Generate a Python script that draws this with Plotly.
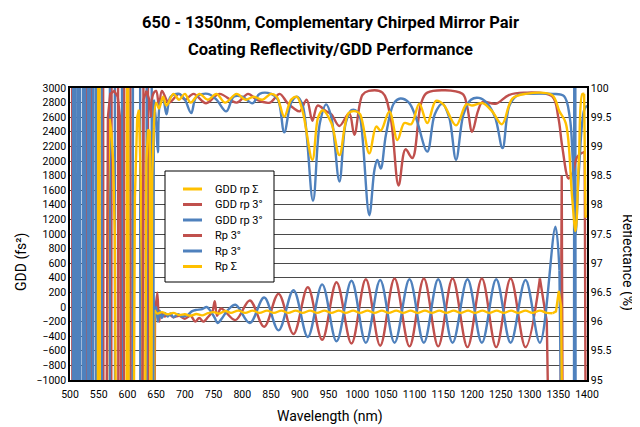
import plotly.graph_objects as go

# ---------------- colours ----------------
YEL = "#FFC000"
RED = "#C0504D"
BLU = "#4F81BD"

# ---------------- GDD (left axis, fs^2) ----------------
# GDD rp Σ (yellow)
gdd_sum_wl = [647, 652, 660, 670, 680, 690, 700, 710, 720, 730, 740, 750, 760, 770, 780,
              793, 805, 818, 830, 843, 855, 868, 880, 893, 905, 918, 930, 943, 955, 968,
              980, 993, 1005, 1018, 1030, 1043, 1055, 1068, 1080, 1093, 1105, 1118, 1130,
              1143, 1155, 1168, 1180, 1193, 1205, 1218, 1230, 1243, 1255, 1268, 1280, 1293,
              1305, 1318, 1330, 1340]
gdd_sum_val = [-40, -90, -70, -100, -80, -110, -100, -120, -95, -115, -85, -70, -90, -55, -80,
               -50, -80, -50, -80, -50, -80, -50, -80, -50, -80, -50, -80, -50, -80, -50,
               -80, -50, -80, -50, -80, -50, -80, -50, -80, -50, -80, -50, -80,
               -50, -80, -50, -80, -50, -80, -50, -80, -50, -80, -50, -80, -50,
               -80, -50, -80, -85]
# resonant region (steep spikes)
gdd_sum_edge_wl = [548, 549.5, 551, 552.5, 562, 566, 569, 572, 575, 578, 582,
                   598, 599.5, 601, 602.5, 609, 613, 617, 620, 623, 626, 628,
                   629, 633, 636, 639, 641, 645, 647]
gdd_sum_edge_val = [-5000, 5000, 5000, -5000, -5000, 1500, 2580, 2400, 2020, 1000, -5000,
                    -5000, 5000, 5000, -5000, -5000, 1500, 2600, 2700, 1800, 0, -5000,
                    -5000, 2000, 2430, 2400, -5000, -5000, -40]
gdd_sum_tail_wl = [1340, 1346, 1351, 1355, 1360]
gdd_sum_tail_val = [-85, -60, 220, 0, -5000]

# GDD rp 3° (red)
gdd_red_wl = [648, 652, 655, 658, 665, 672, 680, 690, 700, 710, 718, 725, 732, 740, 748,
              752, 756, 763, 788, 813, 838, 863, 889, 914, 939, 964, 990, 1015, 1040, 1065,
              1091, 1116, 1141, 1166, 1192, 1217, 1242, 1267, 1293, 1318]
gdd_red_val = [-120, 200, -200, -80, -130, -100, -140, -120, -160, -120, -200, -150, -200,
               -140, -60, 80, -120, -20, -180, 90, -270, 180, -370, 270, -450, 340, -500,
               380, -530, 390, -540, 390, -540, 390, -550, 390, -550, 390, -550, 390]
gdd_red_edge_wl = [503.5, 504.5, 515.5, 516.5, 527.5, 528.5, 537.5, 538.5, 557.5, 558.5,
                   571.5, 572.5, 583.5, 584.5, 593.5, 594.5, 605, 606, 627, 628, 635.5,
                   636.5, 645, 648]
gdd_red_edge_val = [5000, -5000, -5000, 5000, 5000, -5000, -5000, 5000, 5000, -5000,
                    -5000, 5000, 5000, -5000, -5000, 5000, 5000, -5000, -5000, 5000, 5000,
                    -5000, -5000, -120]
gdd_red_tail_wl = [1318, 1330, 1340, 1352, 1356, 1359]
gdd_red_tail_val = [390, -200, -5000, -5000, 1800, -5000]

# GDD rp 3° (blue)
gdd_blu_wl = [647, 650, 653, 656, 660, 665, 670, 675, 680, 688, 695, 705, 712, 720, 730,
              738, 745, 752, 757, 765, 775, 788, 813, 838, 863, 889, 914, 939, 964, 990,
              1015, 1040, 1065, 1091, 1116, 1141, 1166, 1192, 1217, 1242, 1267, 1293, 1318,
              1345, 1352]
gdd_blu_val = [-150, 0, -200, -50, -150, -80, -130, -90, -140, -100, -130, -110, -60, -40,
               -30, 0, -60, -150, -220, -150, -40, 30, -220, 130, -320, 230, -410, 310, -470,
               360, -490, 370, -490, 380, -490, 380, -490, 380, -490, 380, -490, 370, -490,
               1100, 500]
gdd_blu_edge_wl = [505, 505.6, 509, 509.6, 513, 513.6, 517, 517.6, 522, 522.6, 526, 526.6,
                   531, 531.6, 535, 535.6, 540, 540.6, 545, 545.6, 549, 549.6, 555, 555.6,
                   569, 569.6, 578, 578.6, 590, 590.6, 601, 601.6, 609, 609.6, 622, 622.6,
                   633, 633.6, 642, 642.6, 645, 647]
gdd_blu_edge_val = [-5000, 5000, 5000, -5000, -5000, 5000, 5000, -5000, -5000, 5000,
                    5000, -5000, -5000, 5000, 5000, -5000, -5000, 5000, 5000, -5000,
                    -5000, 5000, 5000, -5000, -5000, 5000, 5000, -5000, -5000, 5000,
                    5000, -5000, -5000, 5000, 5000, -5000, -5000, 5000, 5000, 200, 200, -150]
gdd_blu_tail_wl = [1352, 1360, 1377, 1378, 1379.5, 1380.5]
gdd_blu_tail_val = [500, -5000, -5000, 5000, 5000, -5000]

# ---------------- Reflectance (right axis, %) ----------------
# Rp 3° (red)
rp_red_wl = [641, 645, 650, 655, 660, 672, 690, 700, 715, 737, 760, 790, 810, 825, 848,
             865, 878, 890, 900, 912, 922, 931, 946, 955, 969, 986, 995, 1009, 1020, 1044,
             1058, 1072, 1084, 1096, 1111, 1122, 1183, 1191, 1200, 1210, 1218, 1241, 1264,
             1290, 1339, 1350, 1357, 1368, 1375, 1383, 1393]
rp_red_val = [99.5, 99.9, 99.95, 99.7, 99.95, 99.75, 99.9, 99.8, 99.9, 99.74, 99.9, 99.75,
              99.9, 99.8, 99.75, 99.9, 99.75, 99.65, 99.6, 99.8, 99.44, 99.7, 99.6, 99.55,
              99.35, 99.57, 99.2, 99.88, 99.95, 99.92, 99.5, 98.33, 98.95, 98.8, 99.73, 99.92,
              99.9, 99.7, 99.25, 99.6, 99.76, 99.73, 99.88, 99.92, 99.86, 99.5, 98.99, 98.45,
              98.55, 98.82, 98.9]
rp_red_edge_wl = [562, 566, 570, 577, 583, 587, 590, 624, 628, 633, 638, 641]
rp_red_edge_val = [90, 99.5, 99.9, 99.95, 99.85, 99.5, 90, 90, 99.8, 99.95, 99.8, 99.5]
rp_red_tail_wl = [1393, 1396, 1399]
rp_red_tail_val = [98.9, 98.9, 90]

# Rp 3° (blue)
rp_blu_wl = [648, 650, 653, 657, 662, 668, 675, 690, 700, 711, 720, 740, 755, 772, 785,
             800, 818, 830, 850, 862, 873, 885, 895, 905, 923, 935, 946, 955, 969, 980, 990,
             1000, 1005, 1021, 1030, 1035, 1041, 1050, 1064, 1075, 1090, 1102, 1122, 1135,
             1148, 1160, 1172, 1185, 1198, 1212, 1225, 1240, 1253, 1265, 1280, 1300, 1340,
             1360, 1370, 1375, 1380, 1386, 1395, 1400]
rp_blu_val = [99.6, 99.4, 98.9, 99.75, 99.8, 99.55, 99.85, 99.9, 99.8, 99.57, 99.85, 99.9,
              99.8, 99.6, 99.85, 99.85, 99.74, 99.9, 99.9, 99.8, 99.24, 99.75, 99.85, 99.7,
              98.07, 99.4, 99.72, 99.5, 98.4, 99.4, 99.62, 99.6, 99.5, 97.82, 98.6, 98.77,
              98.62, 99.2, 99.74, 99.82, 99.75, 99.5, 98.91, 99.55, 99.73, 99.5, 98.77, 99.55,
              99.8, 99.83, 99.75, 99.5, 98.97, 99.7, 99.88, 99.9, 99.9, 99.86, 99.5, 98.8,
              97.5, 98.6, 99.62, 99.7]
rp_blu_edge_wl = [644, 646, 648]
rp_blu_edge_val = [90, 99.8, 99.6]

# Rp Σ (yellow)
rp_sum_wl = [646, 650, 655, 662, 668, 680, 690, 700, 710, 725, 740, 755, 770, 790, 805,
             820, 835, 850, 860, 873, 885, 895, 905, 922, 932, 940, 955, 969, 985, 998,
             1005, 1021, 1033, 1041, 1056, 1070, 1082, 1094, 1108, 1122, 1137, 1150, 1172,
             1190, 1200, 1218, 1235, 1252, 1270, 1293, 1339, 1352, 1363, 1374, 1380, 1386,
             1392, 1395]
rp_sum_val = [99.3, 99.75, 99.65, 99.85, 99.7, 99.9, 99.8, 99.9, 99.75, 99.9, 99.8, 99.9,
              99.75, 99.9, 99.8, 99.85, 99.8, 99.9, 99.85, 99.51, 99.8, 99.85, 99.6, 98.77,
              99.5, 99.62, 99.4, 98.85, 99.57, 99.6, 99.55, 98.88, 99.34, 99.27, 99.6, 99.11,
              99.4, 99.38, 99.73, 99.4, 99.78, 99.72, 99.36, 99.72, 99.7, 99.74, 99.6, 99.38,
              99.82, 99.9, 99.88, 99.6, 99.4, 98.14, 97.55, 98.8, 99.9, 99.9]
rp_sum_edge_wl = [640, 643, 646]
rp_sum_edge_val = [90, 98.5, 99.3]
rp_sum_tail_wl = [1395, 1397.5, 1400]
rp_sum_tail_val = [99.9, 97.8, 97.8]

# ---------------- axis ticks & texts ----------------
x_ticks = list(range(500, 1401, 50))
gdd_ticks = list(range(-1000, 3001, 200))
rp_ticks = [95, 95.5, 96, 96.5, 97, 97.5, 98, 98.5, 99, 99.5, 100]
rp_tick_text = ["95", "95.5", "96", "96.5", "97", "97.5", "98", "98.5", "99", "99.5", "100"]
title_lines = ["650 - 1350nm, Complementary Chirped Mirror Pair",
               "Coating Reflectivity/GDD Performance"]
legend_names = ["GDD rp Σ", "GDD rp 3°", "GDD rp 3°", "Rp 3°", "Rp 3°", "Rp Σ"]
legend_colors = [YEL, RED, BLU, RED, BLU, YEL]

FONT = "Roboto, Liberation Sans, sans-serif"
LW = 2.4

fig = go.Figure()


def add(wl, val, color, name=None, axis="y", spline=True):
    fig.add_trace(go.Scatter(
        x=wl, y=val, mode="lines", yaxis=axis,
        line=dict(color=color, width=LW, shape="spline" if spline else "linear",
                  smoothing=1.0 if spline else None),
        name=name if name else "", showlegend=False, hoverinfo="skip"))


# GDD traces (left axis)
add(gdd_red_edge_wl, gdd_red_edge_val, RED, spline=False)
add(gdd_red_tail_wl, gdd_red_tail_val, RED, spline=False)
add(gdd_red_wl, gdd_red_val, RED, legend_names[1])
add(gdd_blu_edge_wl, gdd_blu_edge_val, BLU, spline=False)
add(gdd_blu_tail_wl, gdd_blu_tail_val, BLU, spline=False)
add(gdd_blu_wl, gdd_blu_val, BLU, legend_names[2])
add(gdd_sum_edge_wl, gdd_sum_edge_val, YEL, spline=False)
add(gdd_sum_tail_wl, gdd_sum_tail_val, YEL, spline=False)
add(gdd_sum_wl, gdd_sum_val, YEL, legend_names[0])

# Reflectance traces (right axis)
add(rp_red_edge_wl, rp_red_edge_val, RED, axis="y2", spline=False)
add(rp_red_tail_wl, rp_red_tail_val, RED, axis="y2", spline=False)
add(rp_red_wl, rp_red_val, RED, legend_names[3], axis="y2")
add(rp_blu_edge_wl, rp_blu_edge_val, BLU, axis="y2", spline=False)
add(rp_blu_wl, rp_blu_val, BLU, legend_names[4], axis="y2")
add(rp_sum_edge_wl, rp_sum_edge_val, YEL, axis="y2", spline=False)
add(rp_sum_tail_wl, rp_sum_tail_val, YEL, axis="y2", spline=False)
add(rp_sum_wl, rp_sum_val, YEL, legend_names[5], axis="y2")

# plot area in page pixels: x 70..587, y 88..380 (page has an 8 px body margin)
PX0, PX1, PY0, PY1 = 70.0, 587.0, 88.0, 380.0


def px(x):
    return (x - PX0) / (PX1 - PX0)


def py(y):
    return (PY1 - y) / (PY1 - PY0)


annotations = [
    dict(text="<b>%s</b>" % title_lines[0], xref="paper", yref="paper", x=px(330), y=py(22),
         xanchor="center", yanchor="middle", showarrow=False, font=dict(size=16.5)),
    dict(text="<b>%s</b>" % title_lines[1], xref="paper", yref="paper", x=px(330), y=py(50),
         xanchor="center", yanchor="middle", showarrow=False, font=dict(size=16.5)),
    dict(text="GDD (fs²)", textangle=-90, xref="paper", yref="paper", x=px(22),
         y=py(262), xanchor="center", yanchor="middle", showarrow=False, font=dict(size=14)),
    dict(text="Reflectance (%)", textangle=90, xref="paper", yref="paper", x=px(627),
         y=py(262), xanchor="center", yanchor="middle", showarrow=False, font=dict(size=14)),
    dict(text="Wavelength (nm)", xref="paper", yref="paper", x=px(330), y=py(416),
         xanchor="center", yanchor="middle", showarrow=False, font=dict(size=14)),
]

# hand-drawn legend box (compact spacing like the reference)
shapes = [dict(type="rect", xref="paper", yref="paper", x0=px(165), x1=px(274),
               y0=py(282), y1=py(171), fillcolor="white",
               line=dict(color="black", width=1), layer="above")]
leg_y = [189, 204.5, 220, 235.5, 251, 266.5]
for nm, col, yy in zip(legend_names, legend_colors, leg_y):
    shapes.append(dict(type="line", xref="paper", yref="paper", x0=px(183), x1=px(202),
                       y0=py(yy), y1=py(yy), line=dict(color=col, width=3), layer="above"))
    annotations.append(dict(text=nm, xref="paper", yref="paper", x=px(213), y=py(yy),
                            xanchor="left", yanchor="middle", showarrow=False,
                            font=dict(size=11)))

fig.update_layout(
    width=632, height=419,
    margin=dict(l=62, r=53, t=80, b=47, autoexpand=False),
    paper_bgcolor="white", plot_bgcolor="white",
    font=dict(family=FONT, size=11, color="black"),
    xaxis=dict(range=[500, 1400], tickvals=x_ticks, showgrid=False, zeroline=False,
               showline=True, linecolor="black", linewidth=1.5, mirror=True, ticks="",
               tickfont=dict(size=10.5), automargin=False, ticklabelstandoff=4),
    yaxis=dict(range=[-1000, 3000], tickvals=gdd_ticks, showgrid=True, gridcolor="#4a4a4a",
               gridwidth=1.3, zeroline=False, showline=True, linecolor="black", linewidth=1.5,
               ticks="", tickfont=dict(size=10.5), automargin=False),
    yaxis2=dict(range=[95, 100], tickvals=rp_ticks, ticktext=rp_tick_text, overlaying="y",
                side="right", showgrid=False, zeroline=False, showline=True,
                linecolor="black", linewidth=1.5, ticks="", tickfont=dict(size=10.5),
                automargin=False),
    showlegend=False,
    annotations=annotations,
    shapes=shapes,
)

fig.write_html("out.html")
